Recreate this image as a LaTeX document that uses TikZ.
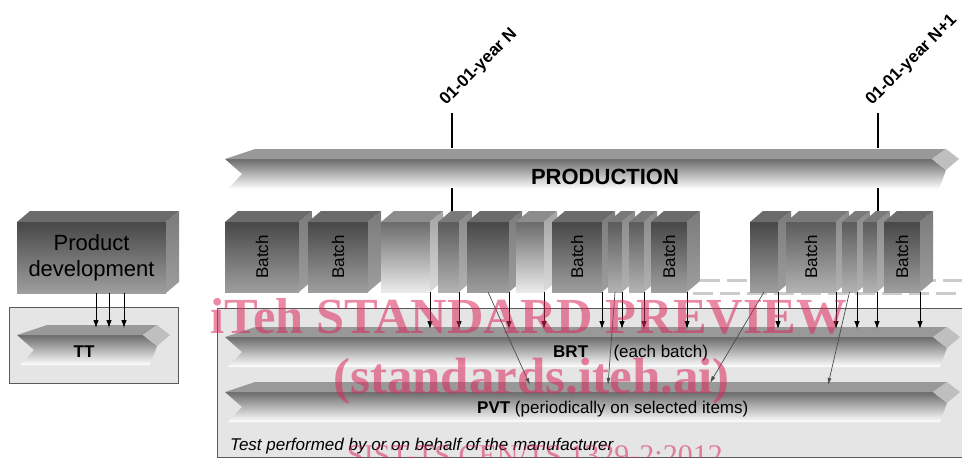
\documentclass[tikz,border=0pt]{standalone}
\usepackage{fontspec}
\setmainfont{Liberation Sans}
\newfontfamily\wmfont{Liberation Serif}
\usetikzlibrary{arrows.meta,positioning}

\definecolor{wmpink}{RGB}{220,40,90}

\tikzset{
  frontdark/.style={top color=black!72, bottom color=black!38},
  frontmid/.style={top color=black!64, bottom color=black!30},
  frontlight/.style={top color=black!58, bottom color=black!8},
  topdark/.style={fill=black!58},
  topmid/.style={fill=black!52},
  toplight/.style={fill=black!45},
  sidedark/.style={top color=black!52, bottom color=black!38},
  sidemid/.style={top color=black!46, bottom color=black!30},
  sidelight/.style={top color=black!36, bottom color=black!14},
}

% one production box: name, left x, right x, kind, text
\newcommand{\batchcube}[5]{%
  \node[front#4, anchor=north west, minimum width={#3-#2}, minimum height=70,
        inner sep=0pt, outer sep=0pt] (#1) at (#2,222) {#5};
  \fill[top#4] (#1.north west) -- ++(13,-11) -- ++({#3-#2},0) -- (#1.north east) -- cycle;
  \shade[side#4] (#1.north east) -- ++(13,-11) -- ++(0,70) -- (#1.south east) -- cycle;
}
\newcommand{\batchlbl}{\rotatebox{90}{Batch}}

% flat 3d arrow: left x, tip x, top y
\newcommand{\arrowband}[3]{%
  \shade[top color=black!58, bottom color=white] (#1,#3+10) -- (#2-27,#3+10) -- (#2-13,#3+21)
     -- (#2-20,#3+40) -- (#1+3,#3+40) -- (#1+17,#3+25) -- cycle;
  \fill[black!40] (#1,#3+10) -- (#1+30,#3) -- (#2-13,#3) -- (#2-27,#3+10) -- cycle;
  \fill[black!25] (#2-27,#3+10) -- (#2-13,#3) -- (#2,#3+10) -- (#2-13,#3+21) -- cycle;
}

\begin{document}
\begin{tikzpicture}[x=1pt, y=-1pt,
  every node/.style={font=\fontsize{17}{20}\selectfont},
  varrow/.style={-{Latex[length=8pt,width=5.5pt]}, line width=0.9pt},
  darrow/.style={-{Latex[length=7pt,width=4pt]}, black!70, line width=0.7pt},
  tick/.style={line width=2.5pt},
  testbox/.style={draw=black!65, fill=black!10, line width=1pt},
  wm/.style={anchor=base west, inner sep=0pt, text=wmpink, opacity=0.55}]

\useasboundingbox (0,0) rectangle (962,458);
\clip (0,0) rectangle (962,458);

% test areas
\draw[testbox] (9,307) rectangle (178,383);
\draw[testbox] (217,308) rectangle (975,457);

\draw[black!20, line width=3pt, dash pattern=on 20pt off 7pt] (700,280) -- (962,280);
\draw[black!20, line width=3pt, dash pattern=on 20pt off 7pt] (693,293) -- (962,293);

\arrowband{17}{170}{325}
\arrowband{225}{960}{327}
\arrowband{225}{960}{382}

% production
\arrowband{225}{959}{149}
\node[font=\fontsize{22}{26}\selectfont\bfseries] (prod) at (605,177) {PRODUCTION};

\coordinate (yN) at (452,113);
\coordinate (yNb) at (452,188);
\coordinate (yM) at (878,113);
\coordinate (yMb) at (878,188);
\draw[tick] (yN) -- ++(0,35);
\draw[tick] (yNb) -- ++(0,25);
\draw[tick] (yM) -- ++(0,35);
\draw[tick] (yMb) -- ++(0,25);
\node[rotate=45, anchor=base west, inner sep=0pt, font=\fontsize{17}{20}\selectfont\bfseries] (lblN) at (446,106) {01-01-year N};
\node[rotate=45, anchor=base west, inner sep=0pt, font=\fontsize{17}{20}\selectfont\bfseries] (lblM) at (872,106) {01-01-year N+1};

% product development
\node[frontdark, anchor=north west, minimum width=149, minimum height=71, inner sep=0pt,
      outer sep=0pt, align=center, font=\fontsize{22}{26}\selectfont] (pd) at (17,222) {Product\\development};
\fill[topdark] (pd.north west) -- ++(13,-11) -- ++(149,0) -- (pd.north east) -- cycle;
\shade[sidedark] (pd.north east) -- ++(13,-11) -- ++(0,71) -- (pd.south east) -- cycle;

\batchcube{b1}{225}{299}{dark}{\batchlbl}
\batchcube{b2}{308}{368}{dark}{\batchlbl}
\batchcube{b3}{381}{430}{light}{}
\batchcube{b4}{438}{459}{mid}{}
\batchcube{b5}{467}{509}{dark}{}
\batchcube{b6}{516}{544}{light}{}
\batchcube{b7}{552}{602}{dark}{\batchlbl}
\batchcube{b8}{608}{622}{mid}{}
\batchcube{b9}{629}{644}{mid}{}
\batchcube{b10}{651}{687}{dark}{\batchlbl}
\batchcube{b11}{750}{778}{dark}{}
\batchcube{b12}{786}{836}{mid}{\batchlbl}
\batchcube{b13}{842}{857}{mid}{}
\batchcube{b14}{863}{877}{mid}{}
\batchcube{b15}{884}{920}{dark}{\batchlbl}

% arrows into the tests
\coordinate (ttin) at (0,328);
\coordinate (brtin) at (0,329);
\foreach \x in {96,109,124}
  \draw[varrow] (\x,0 |- pd.south) -- (\x,0 |- ttin);
\foreach \b in {b3,b4,b5,b6,b7,b8,b9,b10,b11,b12,b13,b14,b15}
  \draw[varrow] (\b.south east) -- (\b.south east |- brtin);

\coordinate (pv1) at (530,385);
\coordinate (pv2) at (608,385);
\coordinate (pv3) at (710,383);
\coordinate (pv4) at (828,385);
\draw[darrow] (b5.south) -- (pv1);
\draw[darrow] (b8.south) -- (pv2);
\draw[darrow] (b11.south) -- (pv3);
\draw[darrow] (b13.south) -- (pv4);

% labels
\node[font=\fontsize{17}{20}\selectfont\bfseries] (tt) at (84,352) {TT};
\node[anchor=base west, inner sep=0pt, font=\fontsize{17}{20}\selectfont\bfseries] (brt) at (553,357) {BRT};
\node[anchor=base west, inner sep=0pt] (brtnote) at ([xshift=25pt]brt.base east) {(each batch)};
\node[anchor=base west, inner sep=0pt] (pvt) at (477,413) {\textbf{PVT} (periodically on selected items)};
\node[anchor=base west, inner sep=0pt, font=\fontsize{17}{20}\selectfont\itshape] (manuf) at (230,450) {Test performed by or on behalf of the manufacturer};

% watermark
\node[wm, font=\wmfont\bfseries\fontsize{50.5}{50}\selectfont] (wm1) at (210,333) {iTeh STANDARD PREVIEW};
\node[wm, font=\wmfont\bfseries\fontsize{51}{50}\selectfont] (wm2) at (333,393) {(standards.iteh.ai)};
\node[wm, font=\wmfont\fontsize{30}{30}\selectfont] (wm3) at (347,465) {SIST-TS CEN/TS 1329-2:2012};
\end{tikzpicture}
\end{document}
